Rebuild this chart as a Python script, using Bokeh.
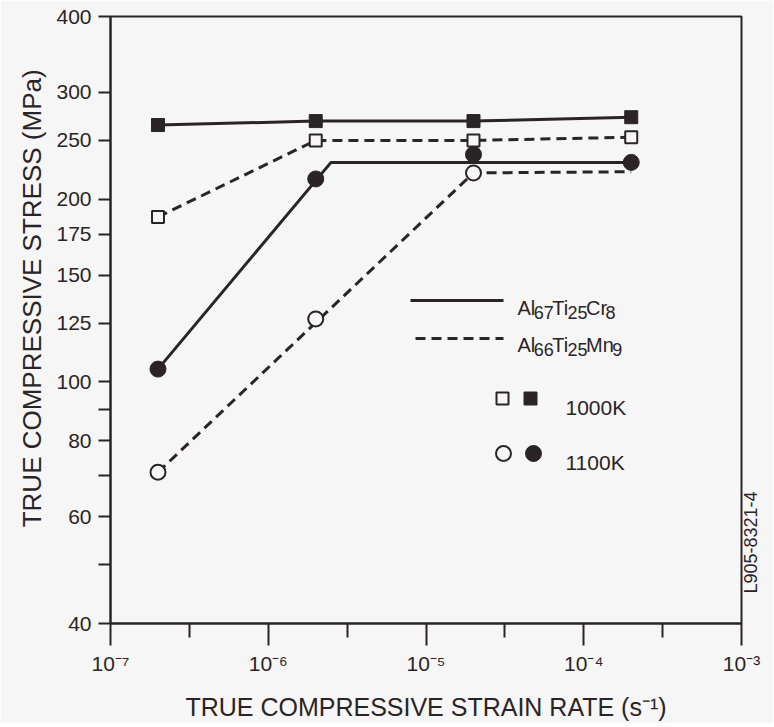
import math
from bokeh.plotting import figure
from bokeh.models import Range1d, FixedTicker, Label, LinearAxis
from bokeh.embed import file_html
from bokeh.resources import INLINE

# ---------------- data ----------------
strain_rate = [2e-7, 2e-6, 2e-5, 2e-4]          # s^-1
cr_1000K = [265, 269, 269, 273]                  # Al67Ti25Cr8, 1000 K (filled squares)
mn_1000K = [187, 250, 250, 253]                  # Al66Ti25Mn9, 1000 K (open squares)
cr_1100K = [105, 216, 237, 230]                  # Al67Ti25Cr8, 1100 K (filled circles)
mn_1100K = [71, 127, 221]                        # Al66Ti25Mn9, 1100 K (open circles, first 3 rates)

# drawn trend lines (vertices)
cr_1100K_fit_x = [2e-7, 2.5e-6, 2e-4]
cr_1100K_fit_y = [105, 230, 230]
mn_1100K_fit_x = [2e-7, 2e-5, 2e-4]
mn_1100K_fit_y = [71, 221, 222]

x_ticks = [1e-7, 1e-6, 1e-5, 1e-4, 1e-3]
x_tick_labels = ["10\u207b\u2077", "10\u207b\u2076", "10\u207b\u2075", "10\u207b\u2074", "10\u207b\u00b3"]
x_minor_ticks = [3.16e-7, 3.16e-6, 3.16e-5, 3.16e-4]
y_ticks = [40, 50, 60, 70, 80, 90, 100, 125, 150, 175, 200, 250, 300, 400]
y_tick_labels = ["40", "", "60", "", "80", "", "100", "125", "150", "175", "200", "250", "300", "400"]

x_title = "TRUE COMPRESSIVE STRAIN RATE (s\u207b\u00b9)"
y_title = "TRUE COMPRESSIVE STRESS (MPa)"
note = "L905-8321-4"
alloy_cr = ["Al", "67", "Ti", "25", "Cr", "8"]
alloy_mn = ["Al", "66", "Ti", "25", "Mn", "9"]
temp_labels = ["1000K", "1100K"]

# ---------------- layout / style ----------------
INK = "#2b2427"
BG = "#f6f6f6"
FONT = "Liberation Sans"
W, H = 770, 722
FR_L, FR_R, FR_T, FR_B = 110, 741, 16, 623   # frame edges in picture pixels
FW, FH = FR_R - FR_L, FR_B - FR_T
X0, X1, Y0, Y1 = 1e-7, 1e-3, 40, 400


def xd(px):
    return 10 ** (math.log10(X0) + (px - FR_L) / FW * math.log10(X1 / X0))


def yd(py):
    return 10 ** (math.log10(Y0) + (FR_B - py) / FH * math.log10(Y1 / Y0))


p = figure(x_axis_type="log", y_axis_type="log",
           x_range=Range1d(X0, X1), y_range=Range1d(Y0, Y1),
           frame_width=FW, frame_height=FH,
           min_border_left=FR_L, min_border_right=W - FR_R,
           min_border_top=FR_T, min_border_bottom=H - FR_B,
           output_backend="svg", toolbar_location=None,
           background_fill_color=BG, border_fill_color=BG)

p.xgrid.visible = False
p.ygrid.visible = False
p.outline_line_color = INK
p.outline_line_width = 2
p.outline_line_alpha = 1

xa = p.xaxis[0]
xa.ticker = FixedTicker(ticks=x_ticks, minor_ticks=x_minor_ticks)
xa.major_label_overrides = dict(zip(x_ticks, x_tick_labels))
xa.major_tick_out = 22
xa.major_tick_in = 0
xa.minor_tick_out = 14
xa.minor_tick_in = 0
xa.major_label_standoff = 6
xa.major_label_text_font_size = "21px"
xa.axis_label = x_title
xa.axis_label_standoff = 15

ya = p.yaxis[0]
ya.ticker = FixedTicker(ticks=y_ticks, minor_ticks=[])
ya.major_label_overrides = dict(zip(y_ticks, y_tick_labels))
ya.major_tick_out = 12
ya.major_tick_in = 0
ya.minor_tick_out = 0
ya.minor_tick_in = 0
ya.major_label_standoff = 7
ya.major_label_text_font_size = "21px"
ya.axis_label = "\u00a0" * 6 + y_title
ya.axis_label_standoff = 6

for ax in (xa, ya):
    ax.axis_line_color = INK
    ax.axis_line_width = 2
    ax.major_tick_line_color = INK
    ax.major_tick_line_width = 2
    ax.minor_tick_line_color = INK
    ax.minor_tick_line_width = 2
    ax.major_label_text_font = FONT
    ax.major_label_text_color = INK
    ax.axis_label_text_font = FONT
    ax.axis_label_text_font_style = "normal"
    ax.axis_label_text_color = INK
xa.axis_label_text_font_size = "25px"
ya.axis_label_text_font_size = "26px"

# side note on the right, as the label of a bare axis
ra = LinearAxis(ticker=FixedTicker(ticks=[]), axis_line_color=None,
                major_tick_line_color=None, minor_tick_line_color=None,
                major_tick_out=0, minor_tick_out=0, major_label_standoff=0,
                axis_label="\u00a0" * 6 + note, axis_label_standoff=9,
                axis_label_text_font=FONT, axis_label_text_font_size="18px",
                axis_label_text_font_style="normal", axis_label_text_color=INK)
try:
    ra.axis_label_align = "start"
    ra.axis_label_orientation = math.pi / 2
except Exception:
    pass
p.add_layout(ra, "right")

# ---------------- data lines and markers ----------------
DASH = "10 6"
p.line(strain_rate, cr_1000K, line_color=INK, line_width=3)
p.line(strain_rate, mn_1000K, line_color=INK, line_width=3, line_dash=DASH)
p.line(cr_1100K_fit_x, cr_1100K_fit_y, line_color=INK, line_width=3)
p.line(mn_1100K_fit_x, mn_1100K_fit_y, line_color=INK, line_width=3, line_dash=DASH)

p.scatter(strain_rate, mn_1000K, marker="square", size=12, fill_color=BG, line_color=INK, line_width=2)
p.scatter(strain_rate[:len(mn_1100K)], mn_1100K, marker="circle", size=15, fill_color=BG, line_color=INK, line_width=2)
p.scatter(strain_rate, cr_1000K, marker="square", size=13, fill_color=INK, line_color=INK, line_width=1)
p.scatter(strain_rate, cr_1100K, marker="circle", size=16, fill_color=INK, line_color=INK, line_width=1)

# ---------------- hand-made legend ----------------
WID = {"A": .667, "l": .222, "T": .611, "i": .222, "C": .722, "r": .333, "M": .833, "n": .556}


def text_width(s, size):
    return sum(WID.get(c, .556) for c in s) * size


def formula(px, base_py, pieces, big=20, small=18, drop=5, kern=-1.5):
    cur = px
    for i, s in enumerate(pieces):
        sub = i % 2 == 1
        size = small if sub else big
        p.add_layout(Label(x=xd(cur), y=yd(base_py + (drop if sub else 0)), text=s,
                           text_align="left", text_baseline="alphabetic",
                           text_font=FONT, text_font_size=f"{size}px", text_color=INK))
        cur += text_width(s, size) + kern


p.line([xd(410), xd(503)], [yd(300), yd(300)], line_color=INK, line_width=3)
p.line([xd(415), xd(503)], [yd(338), yd(338)], line_color=INK, line_width=3, line_dash=DASH)
formula(517, 307, alloy_cr)
formula(517, 344, alloy_mn)

p.scatter([xd(502)], [yd(398)], marker="square", size=12, fill_color=BG, line_color=INK, line_width=2)
p.scatter([xd(530)], [yd(398)], marker="square", size=13, fill_color=INK, line_color=INK)
p.scatter([xd(503)], [yd(453)], marker="circle", size=15, fill_color=BG, line_color=INK, line_width=2)
p.scatter([xd(533)], [yd(453)], marker="circle", size=16, fill_color=INK, line_color=INK)
for lab, py in zip(temp_labels, [407, 462]):
    p.add_layout(Label(x=xd(565), y=yd(py), text=lab, text_align="left", text_baseline="alphabetic",
                       text_font=FONT, text_font_size="21px", text_color=INK))

open("out.html", "w").write(file_html(p, INLINE))
